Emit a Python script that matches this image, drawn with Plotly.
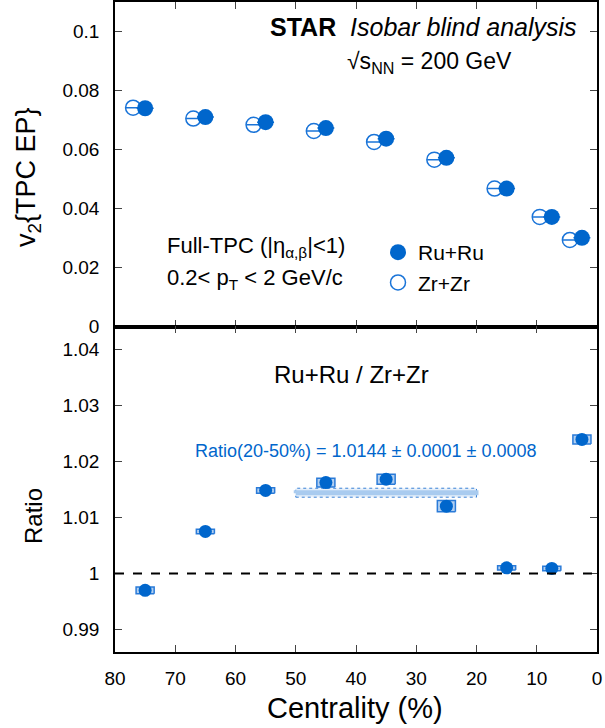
import plotly.graph_objects as go

# ---------------- data ----------------
centrality = [75, 65, 55, 45, 35, 25, 15, 7.5, 2.5]
zr_offset = 2.0  # Zr points drawn shifted to higher centrality for visibility
v2_ru = [0.0740, 0.0710, 0.0693, 0.0673, 0.0637, 0.0572, 0.0468, 0.0372, 0.0301]
v2_zr = [0.0742, 0.0705, 0.0684, 0.0663, 0.0626, 0.0566, 0.0468, 0.0372, 0.0294]
ratio = [0.9970, 1.0075, 1.0148, 1.0162, 1.0168, 1.0120, 1.0010, 1.0009, 1.0239]
ratio_sys = [0.0006, 0.0004, 0.0005, 0.0008, 0.0009, 0.0010, 0.0004, 0.0004, 0.0008]
sys_halfwidth = 1.5
fit_range = [50, 20]
fit_value = 1.0144
fit_stat = 0.0001
fit_sys = 0.0008
x_ticks = [80, 70, 60, 50, 40, 30, 20, 10, 0]
top_ticks = [0, 0.02, 0.04, 0.06, 0.08, 0.1]
top_ticktext = ["0", "0.02", "0.04", "0.06", "0.08", "0.1"]
bot_ticks = [0.99, 1.0, 1.01, 1.02, 1.03, 1.04]
bot_ticktext = ["0.99", "1", "1.01", "1.02", "1.03", "1.04"]

BLUE = "#0066cc"
BLUE_OPEN = "#1a74d8"
FONT = "Liberation Sans, Arial, Helvetica, sans-serif"

fig = go.Figure()

# ---------------- top panel ----------------
fig.add_trace(go.Scatter(
    x=[c + zr_offset for c in centrality], y=v2_zr, mode="markers", name="Zr+Zr",
    legendrank=2,
    marker=dict(symbol="circle-open", size=15, color=BLUE_OPEN, line=dict(width=1.5)),
    error_x=dict(type="constant", value=1.2, thickness=1.5, width=0, color=BLUE_OPEN),
    xaxis="x", yaxis="y"))
fig.add_trace(go.Scatter(
    x=centrality, y=v2_ru, mode="markers", name="Ru+Ru", legendrank=1,
    marker=dict(symbol="circle", size=16, color=BLUE),
    error_x=dict(type="constant", value=1.4, thickness=1.5, width=0, color=BLUE),
    xaxis="x", yaxis="y"))

# ---------------- bottom panel ----------------
# fit band (20-50%)
fx0, fx1 = fit_range
fig.add_trace(go.Scatter(
    x=[fx0, fx1, fx1, fx0, fx0],
    y=[fit_value - fit_sys, fit_value - fit_sys, fit_value + fit_sys,
       fit_value + fit_sys, fit_value - fit_sys],
    mode="lines", fill="toself", fillcolor="rgba(0,102,204,0.10)",
    line=dict(color="#3a82d6", width=1, dash="dot"),
    showlegend=False, hoverinfo="skip", xaxis="x2", yaxis="y2"))
fig.add_trace(go.Scatter(
    x=[fx0, fx1, fx1, fx0, fx0],
    y=[fit_value - fit_stat, fit_value - fit_stat, fit_value + fit_stat,
       fit_value + fit_stat, fit_value - fit_stat],
    mode="lines", fill="toself", fillcolor="#a9cbef",
    line=dict(color="#a9cbef", width=4),
    showlegend=False, hoverinfo="skip", xaxis="x2", yaxis="y2"))

# systematic boxes
for c, r, s in zip(centrality, ratio, ratio_sys):
    fig.add_trace(go.Scatter(
        x=[c - sys_halfwidth, c + sys_halfwidth, c + sys_halfwidth, c - sys_halfwidth, c - sys_halfwidth],
        y=[r - s, r - s, r + s, r + s, r - s],
        mode="lines", fill="toself", fillcolor="rgba(60,135,220,0.40)",
        line=dict(color="#2b7bd8", width=1.5),
        showlegend=False, hoverinfo="skip", xaxis="x2", yaxis="y2"))

fig.add_trace(go.Scatter(
    x=centrality, y=ratio, mode="markers", showlegend=False,
    marker=dict(symbol="circle", size=13, color=BLUE),
    xaxis="x2", yaxis="y2"))

# dashed unity line
fig.add_shape(type="line", xref="x2 domain", yref="y2", x0=0, x1=1, y0=1, y1=1,
              line=dict(color="black", width=2, dash="dash"))

L, R, T, B = 115, 8, 2, 76
W, H = 605, 728
PW, PH = W - L - R, H - T - B
SPLIT = (H - B - 326.7) / PH

axis_common = dict(showline=True, linecolor="black", linewidth=1.5, mirror="ticks",
                   ticks="inside", ticklen=7, tickwidth=1, tickcolor="#444",
                   showgrid=False, zeroline=False, automargin=False,
                   tickfont=dict(family=FONT, size=19, color="black"))

def px_x(px):
    return (px - L) / PW

def px_y(py):
    return (H - B - py) / PH

fig.update_layout(
    width=W, height=H,
    margin=dict(l=L, r=R, t=T, b=B, autoexpand=False),
    paper_bgcolor="white", plot_bgcolor="white",
    font=dict(family=FONT, color="black"),
    xaxis=dict(domain=[0, 1], range=[80, 0], anchor="y", tickvals=x_ticks,
               showticklabels=False, **axis_common),
    yaxis=dict(domain=[SPLIT, 1], range=[0, 0.11], anchor="x", tickvals=top_ticks,
               ticktext=top_ticktext, ticklabelstandoff=10, **axis_common),
    xaxis2=dict(domain=[0, 1], range=[80, 0], anchor="y2", tickvals=x_ticks,
                ticklabelstandoff=8, **axis_common),
    yaxis2=dict(domain=[0, SPLIT], range=[0.986, 1.044], anchor="x2", tickvals=bot_ticks,
                ticktext=bot_ticktext, ticklabelstandoff=10, **axis_common),
    legend=dict(x=px_x(378), y=px_y(232), xanchor="left", yanchor="top",
                font=dict(family=FONT, size=21), bgcolor="rgba(0,0,0,0)",
                itemwidth=30, tracegroupgap=0),
    showlegend=True,
)

annotations = [
    dict(text="<b>STAR</b>\u00a0 <i>Isobar blind analysis</i>", x=px_x(579), y=px_y(27),
         xanchor="right", yanchor="middle", font=dict(size=25)),
    dict(text="√s<sub>NN</sub> = 200 GeV", x=px_x(429), y=px_y(62),
         xanchor="center", yanchor="middle", font=dict(size=23)),
    dict(text="Full-TPC (|η<sub>α,β</sub>|<1)", x=px_x(165), y=px_y(247),
         xanchor="left", yanchor="middle", font=dict(size=22)),
    dict(text="0.2< p<sub>T</sub> < 2 GeV/c", x=px_x(165), y=px_y(279),
         xanchor="left", yanchor="middle", font=dict(size=22)),
    dict(text="Ru+Ru / Zr+Zr", x=px_x(351), y=px_y(374),
         xanchor="center", yanchor="middle", font=dict(size=24)),
    dict(text="Ratio(20-50%) = 1.0144 ± 0.0001 ± 0.0008", x=px_x(366), y=px_y(451),
         xanchor="center", yanchor="middle", font=dict(size=18, color=BLUE)),
    dict(text="v<sub>2</sub>{TPC EP}", x=px_x(28), y=px_y(177), textangle=-90,
         xanchor="center", yanchor="middle", font=dict(size=27)),
    dict(text="Ratio", x=px_x(33), y=px_y(516), textangle=-90,
         xanchor="center", yanchor="middle", font=dict(size=24)),
    dict(text="Centrality (%)", x=px_x(355), y=px_y(708),
         xanchor="center", yanchor="middle", font=dict(size=29)),
]
for a in annotations:
    a.update(xref="paper", yref="paper", showarrow=False)
    a["font"] = dict(family=FONT, color=a["font"].get("color", "black"), size=a["font"]["size"])
fig.update_layout(annotations=annotations)

fig.write_html("out.html",
               config={"displayModeBar": False},
               post_script="document.body.style.margin='0';document.body.style.padding='0';")
